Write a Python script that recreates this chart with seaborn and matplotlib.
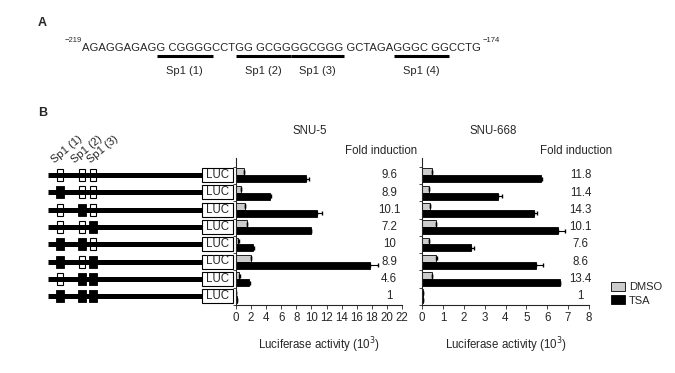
import numpy as np
import pandas as pd
import matplotlib
matplotlib.use("Agg")
import matplotlib.pyplot as plt
from matplotlib.patches import Rectangle
import seaborn as sns

# panel A
sequence = "AGAGGAGAGG CGGGGCCTGG GCGGGGCGGG GCTAGAGGGC GGCCTG"
seq_start = "\u2212219"
seq_end = "\u2212174"
site_names = ["Sp1 (1)", "Sp1 (2)", "Sp1 (3)", "Sp1 (4)"]
site_chars = [(9, 16), (19, 26), (26, 32), (39, 46)]

# panel B constructs (1 = mutated site)
mutated = [[0, 0, 0], [1, 0, 0], [0, 1, 0], [0, 0, 1],
           [1, 1, 0], [1, 0, 1], [0, 1, 1], [1, 1, 1]]
constructs = [str(i + 1) for i in range(8)]

snu5_dmso = [1.0, 0.6, 1.15, 1.45, 0.3, 2.0, 0.45, 0.05]
snu5_dmso_err = [0.1, 0.0, 0.1, 0.0, 0.05, 0.0, 0.05, 0.0]
snu5_tsa = [9.3, 4.5, 10.8, 9.95, 2.3, 17.8, 1.7, 0.08]
snu5_tsa_err = [0.4, 0.1, 0.6, 0.0, 0.15, 1.0, 0.15, 0.0]
snu5_fold = ["9.6", "8.9", "10.1", "7.2", "10", "8.9", "4.6", "1"]

snu668_dmso = [0.5, 0.33, 0.4, 0.65, 0.33, 0.65, 0.5, 0.06]
snu668_dmso_err = [0.0, 0.0, 0.0, 0.0, 0.0, 0.06, 0.0, 0.0]
snu668_tsa = [5.68, 3.65, 5.36, 6.5, 2.37, 5.44, 6.62, 0.05]
snu668_tsa_err = [0.05, 0.2, 0.15, 0.35, 0.1, 0.35, 0.0, 0.0]
snu668_fold = ["11.8", "11.4", "14.3", "10.1", "7.6", "8.6", "13.4", "1"]

sns.set_style("ticks")
plt.rcParams["font.family"] = ["Liberation Sans", "DejaVu Sans"]

fig = plt.figure(figsize=(6.75, 3.73), dpi=100)
renderer = fig.canvas.get_renderer()

# overlay in pixel coordinates for the schematic parts
ov = fig.add_axes([0, 0, 1, 1])
ov.set_xlim(0, 675)
ov.set_ylim(373, 0)
ov.axis("off")

ov.text(42, 23, "A", fontsize=9, fontweight="bold", ha="center", va="center")
ov.text(43, 113, "B", fontsize=9, fontweight="bold", ha="center", va="center")

seq_x = 82.5
seq_fs = 8.1
ov.text(seq_x - 0.5, 41, seq_start, fontsize=5.5, ha="right", va="center")
seq_txt = ov.text(seq_x, 48, sequence, fontsize=seq_fs, ha="left", va="center")
seq_w = seq_txt.get_window_extent(renderer).width


def char_x(idx):
    t = ov.text(seq_x, 48, sequence[:idx], fontsize=seq_fs, ha="left", va="center")
    w = t.get_window_extent(renderer).width
    t.remove()
    return seq_x + w


ov.text(seq_x + seq_w + 1, 41, seq_end, fontsize=5.5, ha="left", va="center")
for (c0, c1), name in zip(site_chars, site_names):
    x0, x1 = char_x(c0), char_x(c1)
    ov.plot([x0, x1], [56, 56], color="black", lw=2.2, solid_capstyle="butt")
    ov.text((x0 + x1) / 2, 71.5, name, fontsize=8, ha="center", va="center")

# construct schematics
row_y = 175 + 17.3 * np.arange(8)
box_x = [60, 82, 92.5]
for y, muts in zip(row_y, mutated):
    ov.plot([48, 202], [y, y], color="black", lw=3.6, solid_capstyle="butt")
    for bx, m in zip(box_x, muts):
        if m:
            ov.add_patch(Rectangle((bx - 4, y - 6), 8, 12, facecolor="black", edgecolor="black", lw=0.6))
        else:
            ov.add_patch(Rectangle((bx - 3, y - 6), 6, 12, facecolor="white", edgecolor="black", lw=0.8))
    ov.add_patch(Rectangle((202, y - 7), 31, 14, facecolor="white", edgecolor="black", lw=0.8))
    ov.text(217.5, y, "LUC", fontsize=8.3, ha="center", va="center")
for bx, name in zip([56, 76, 92], site_names[:3]):
    ov.text(bx, 165, name, fontsize=8, rotation=40, rotation_mode="anchor", ha="left", va="bottom")


def draw_panel(ax, dmso, dmso_err, tsa, tsa_err, fold, xmax, step, fold_x, legend):
    df = pd.DataFrame({
        "construct": constructs * 2,
        "activity": dmso + tsa,
        "treatment": ["DMSO"] * 8 + ["TSA"] * 8,
    })
    sns.barplot(data=df, x="activity", y="construct", hue="treatment", orient="h",
                order=constructs, hue_order=["DMSO", "TSA"],
                palette={"DMSO": "#cccccc", "TSA": "black"}, edgecolor="black",
                linewidth=0.6, width=0.8, errorbar=None, ax=ax, legend=legend)
    pos = np.arange(8)
    ax.errorbar(dmso, pos - 0.2, xerr=[np.zeros(8), dmso_err], fmt="none",
                ecolor="black", elinewidth=0.8, capsize=1.5)
    ax.errorbar(tsa, pos + 0.2, xerr=[np.zeros(8), tsa_err], fmt="none",
                ecolor="black", elinewidth=0.8, capsize=1.5)
    for p, f in zip(pos, fold):
        ax.text(fold_x, p, f, fontsize=8.3, ha="center", va="center", clip_on=False)
    ax.set_xlim(0, xmax)
    ax.set_ylim(7.4, -1.0)
    ax.set_xticks(np.arange(0, xmax + step, step))
    ax.set_yticks(np.arange(-0.5, 8, 1))
    ax.set_yticklabels([])
    ax.tick_params(axis="y", length=2.5, width=0.6)
    ax.tick_params(axis="x", length=3, width=0.6, labelsize=8.3, pad=2)
    ax.set_ylabel("")
    ax.set_xlabel("Luciferase activity (10$^3$)", fontsize=8.3, labelpad=8)
    sns.despine(ax=ax)
    for s in ["left", "bottom"]:
        ax.spines[s].set_linewidth(0.8)


ax1 = fig.add_axes([236 / 675, 1 - 305 / 373, 166 / 675, 147 / 373])
ax2 = fig.add_axes([422 / 675, 1 - 305 / 373, 167 / 675, 147 / 373])
ax1.patch.set_alpha(0)
ax2.patch.set_alpha(0)

draw_panel(ax1, snu5_dmso, snu5_dmso_err, snu5_tsa, snu5_tsa_err, snu5_fold, 22, 2, 20.3, False)
draw_panel(ax2, snu668_dmso, snu668_dmso_err, snu668_tsa, snu668_tsa_err, snu668_fold, 8, 1, 7.6, True)

sns.move_legend(ax2, "upper left", bbox_to_anchor=(601 / 675, 1 - 272 / 373),
                bbox_transform=fig.transFigure, frameon=False, title=None,
                fontsize=8, handlelength=1.3, handleheight=0.9,
                handletextpad=0.3, labelspacing=0.25)

ov.text(310, 131, "SNU-5", fontsize=8.3, ha="center", va="center")
ov.text(493, 131, "SNU-668", fontsize=8.3, ha="center", va="center")
ov.text(381, 151, "Fold induction", fontsize=8.3, ha="center", va="center")
ov.text(576, 151, "Fold induction", fontsize=8.3, ha="center", va="center")

fig.savefig("out.png", dpi=100)
